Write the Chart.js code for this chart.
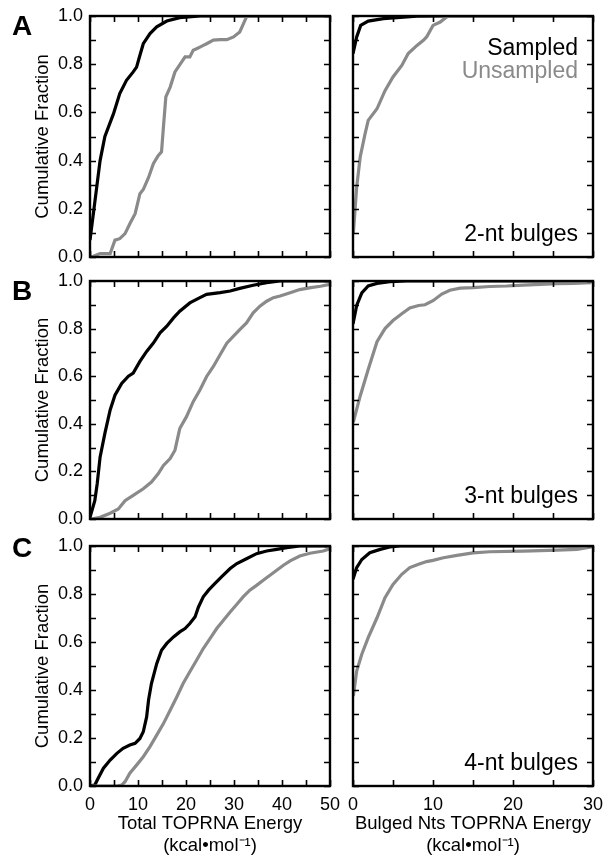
<!DOCTYPE html>
<html><head><meta charset="utf-8">
<script src="https://cdn.jsdelivr.net/npm/chart.js@4.4.0/dist/chart.umd.min.js"></script>
<style>
html,body{margin:0;padding:0;background:#fff;}
body{width:603px;height:858px;position:relative;overflow:hidden;}
canvas{position:absolute;}
</style></head><body>
<canvas id="cA1" width="340" height="270" style="left:0;top:0"></canvas>
<canvas id="cA2" width="260" height="270" style="left:343px;top:0"></canvas>
<canvas id="cB1" width="340" height="270" style="left:0;top:262px"></canvas>
<canvas id="cB2" width="260" height="270" style="left:343px;top:262px"></canvas>
<canvas id="cC1" width="340" height="328" style="left:0;top:530px"></canvas>
<canvas id="cC2" width="260" height="328" style="left:343px;top:530px"></canvas>
<script>
// ---- data: [energy, cumulative fraction] ----
const A_total_sampled = [[0,0.07],[1.4,0.29],[2.1,0.40],[3.1,0.50],[4.9,0.595],[6.2,0.678],[7.6,0.733],[9.0,0.768],[9.7,0.788],[10.4,0.837],[11.1,0.885],[12.5,0.927],[13.9,0.955],[16,0.979],[18.7,0.993],[23,1.0],[50,1.0]];
const A_total_unsampled = [[0.3,0],[2.1,0.014],[4.2,0.014],[5.2,0.07],[6.2,0.076],[7.3,0.097],[8.3,0.138],[9.4,0.18],[10.4,0.263],[11.1,0.28],[12.2,0.33],[13.2,0.387],[14.2,0.42],[14.9,0.436],[15.3,0.54],[15.8,0.664],[16.7,0.705],[17.7,0.768],[19.1,0.81],[19.8,0.83],[20.8,0.83],[21.5,0.858],[22.2,0.864],[22.9,0.871],[23.6,0.878],[24.3,0.885],[25.7,0.9],[27.1,0.902],[28.5,0.902],[29.9,0.913],[31.2,0.934],[32.6,0.996],[33,1.0],[50,1.0]];
const A_bulged_sampled = [[0,0.844],[0.46,0.913],[0.96,0.961],[1.9,0.979],[3.8,0.989],[8,0.999],[11.7,1.0],[30,1.0]];
const A_bulged_unsampled = [[0.04,0.097],[0.46,0.29],[0.9,0.415],[1.5,0.51],[1.9,0.567],[3.0,0.615],[4.0,0.69],[5.0,0.747],[6.1,0.795],[6.9,0.844],[8.0,0.878],[8.8,0.899],[9.2,0.913],[10,0.961],[10.9,0.975],[11.7,0.996],[12.1,1.0],[30,1.0]];

const B_total_sampled = [[0,0.007],[1.0,0.077],[1.5,0.148],[2.1,0.26],[3.1,0.36],[4.2,0.458],[5.2,0.52],[6.6,0.57],[8.0,0.6],[9.0,0.613],[10.4,0.662],[11.8,0.704],[13.2,0.739],[14.6,0.782],[16,0.81],[17.4,0.845],[18.7,0.873],[20.8,0.908],[22.9,0.93],[24.3,0.944],[27.1,0.951],[29.2,0.958],[31.2,0.969],[34,0.982],[36.8,0.993],[39.6,1.0],[50,1.0]];
const B_total_unsampled = [[0.3,0],[2.1,0.007],[4.2,0.024],[5.9,0.042],[7.3,0.077],[9.0,0.099],[11.1,0.127],[12.8,0.155],[14.2,0.19],[15.3,0.225],[16.7,0.254],[17.7,0.289],[18.7,0.38],[20.1,0.43],[21.5,0.493],[22.9,0.542],[24.3,0.599],[25.7,0.641],[27.1,0.69],[28.5,0.739],[29.9,0.768],[31.2,0.796],[32.6,0.824],[34,0.866],[35.4,0.894],[36.8,0.915],[38.2,0.93],[39.6,0.937],[41.7,0.951],[43.7,0.964],[46,0.972],[48,0.978],[50,0.986]];
const B_bulged_sampled = [[0,0.82],[0.46,0.897],[1.1,0.95],[1.9,0.979],[3,0.99],[4.6,0.997],[6.7,1.0],[30,1.0]];
const B_bulged_unsampled = [[0.04,0.407],[0.9,0.517],[1.9,0.628],[3.0,0.745],[4.0,0.8],[5.0,0.834],[6.1,0.862],[7.1,0.887],[8.2,0.897],[9.0,0.9],[10,0.917],[11.1,0.945],[12.1,0.961],[13.4,0.97],[15,0.972],[17.1,0.977],[19.2,0.979],[21.3,0.983],[23.4,0.986],[25.5,0.989],[27.5,0.99],[29.8,0.993]];

const C_total_sampled = [[0,0],[1.0,0.004],[1.7,0.032],[2.8,0.074],[4.2,0.108],[5.6,0.136],[6.9,0.157],[8.3,0.171],[9.4,0.178],[10.4,0.198],[11.1,0.226],[11.8,0.288],[12.2,0.358],[12.8,0.427],[13.9,0.51],[14.9,0.566],[16,0.594],[17.4,0.621],[18.7,0.642],[19.8,0.656],[20.8,0.677],[21.9,0.705],[22.6,0.746],[23.6,0.788],[24.7,0.816],[26,0.843],[27.4,0.871],[29.2,0.906],[30.6,0.927],[32.6,0.947],[34.7,0.968],[36.8,0.979],[38.9,0.986],[41,0.993],[43.7,1.0],[50,1.0]];
const C_total_unsampled = [[0.3,0],[5.6,0],[6.6,0.004],[7.3,0.018],[8.3,0.053],[9.7,0.087],[11.1,0.122],[12.5,0.164],[13.9,0.212],[15.3,0.26],[16.7,0.316],[18.1,0.372],[19.4,0.427],[20.8,0.476],[22.2,0.524],[23.6,0.573],[25,0.614],[26.4,0.656],[27.8,0.691],[29.2,0.725],[30.6,0.757],[31.9,0.788],[33.3,0.816],[34.7,0.836],[36.1,0.857],[37.5,0.878],[38.9,0.899],[40.3,0.92],[41.7,0.938],[43.7,0.958],[45.8,0.97],[48.6,0.979],[49.6,0.986],[50,1.0]];
const C_bulged_sampled = [[0,0.861],[0.46,0.91],[1.1,0.944],[2.1,0.972],[3.4,0.986],[4.6,0.996],[5.9,1.0],[30,1.0]];
const C_bulged_unsampled = [[0.04,0.375],[0.46,0.479],[1.1,0.549],[1.9,0.618],[3.0,0.701],[4.0,0.785],[5.0,0.84],[6.1,0.882],[7.1,0.91],[8.2,0.924],[9.2,0.935],[10,0.94],[11.3,0.951],[13,0.961],[15,0.971],[17.1,0.976],[21.3,0.979],[25.5,0.983],[28,0.986],[29.8,0.996]];

const seriesNames = ["Sampled", "Unsampled"];
const bulgeLabels = ["2-nt bulges", "3-nt bulges", "4-nt bulges"];
const panelLetters = ["A", "B", "C"];
const xMaxTotal = 50, xMaxBulged = 30;
const yTitle = "Cumulative Fraction";
const xTitleTotal = ["Total TOPRNA Energy", "(kcal\u2022mol\u207B\u00B9)"];
const xTitleBulged = ["Bulged Nts TOPRNA Energy", "(kcal\u2022mol\u207B\u00B9)"];

// ---- style ----
const FONT = "'Liberation Sans', Arial, Helvetica, sans-serif";
const BLACK = "#000000", GRAY = "#8a8a8a";
Chart.defaults.font.family = FONT;
Chart.defaults.color = "#000";

function toXY(arr){ return arr.map(p => ({x:p[0], y:p[1]})); }

const framePlugin = {
  id: 'frame',
  afterDraw(chart){
    const o = chart.options.plugins.frame;
    const ctx = chart.ctx, a = chart.chartArea;
    const xs = chart.scales.x, ys = chart.scales.y;
    ctx.save();
    ctx.strokeStyle = '#000';
    ctx.lineWidth = 1.6;
    ctx.beginPath();
    const TL = 6;
    ys.ticks.forEach(t => {
      const py = Math.round(ys.getPixelForValue(t.value)) + 0.5;
      ctx.moveTo(a.left, py); ctx.lineTo(a.left + TL, py);
      ctx.moveTo(a.right, py); ctx.lineTo(a.right - TL, py);
    });
    xs.ticks.forEach(t => {
      const px = Math.round(xs.getPixelForValue(t.value)) + 0.5;
      ctx.moveTo(px, a.top); ctx.lineTo(px, a.top + TL);
      ctx.moveTo(px, a.bottom); ctx.lineTo(px, a.bottom - TL);
    });
    ctx.stroke();
    ctx.lineWidth = 2.4;
    ctx.strokeRect(a.left, a.top, a.right - a.left, a.bottom - a.top);
    (o.notes || []).forEach(n => {
      ctx.font = n.font;
      ctx.fillStyle = n.color;
      ctx.textAlign = 'right';
      ctx.textBaseline = 'alphabetic';
      const x = a.right - n.dx;
      const y = n.fromBottom ? a.bottom - n.dy : a.top + n.dy;
      ctx.fillText(n.text, x, y);
    });
    if (o.letter) {
      ctx.font = "bold 28px " + FONT;
      ctx.fillStyle = '#000';
      ctx.textAlign = 'left';
      ctx.textBaseline = 'alphabetic';
      ctx.fillText(o.letter.text, o.letter.x, o.letter.y);
    }
    ctx.restore();
  }
};

function makePanel(id, cfg){
  const isLeft = cfg.left;
  const showX = cfg.bottomRow;
  new Chart(document.getElementById(id), {
    type: 'line',
    data: {
      datasets: [
        { label: seriesNames[1], data: toXY(cfg.unsampled), borderColor: GRAY, borderWidth: 3.2, pointRadius: 0, tension: 0, order: 0, fill: false },
        { label: seriesNames[0], data: toXY(cfg.sampled), borderColor: BLACK, borderWidth: 3.2, pointRadius: 0, tension: 0, order: 1, fill: false }
      ]
    },
    options: {
      responsive: false,
      animation: false,
      events: [],
      layout: { padding: { top: cfg.padTop, right: 10, left: 0, bottom: 0 } },
      plugins: {
        legend: { display: false },
        tooltip: { enabled: false },
        frame: { notes: cfg.notes, letter: cfg.letter }
      },
      scales: {
        x: {
          type: 'linear', min: 0, max: cfg.xMax,
          grid: { display: false, drawTicks: true, tickLength: 8 },
          border: { display: false },
          ticks: {
            display: showX, stepSize: 5, autoSkip: false, maxRotation: 0, padding: 0,
            font: { size: 18 }, color: '#000',
            callback: v => (Math.round(v) % 10 === 0 ? String(Math.round(v)) : '')
          },
          title: {
            display: showX, text: cfg.xTitle, font: { size: 18.5 }, color: '#000',
            padding: { top: 0, bottom: 1 }
          },
          afterFit: s => { s.height = cfg.xAxisH; }
        },
        y: {
          type: 'linear', min: 0, max: 1,
          grid: { display: false, drawTicks: true, tickLength: 7 },
          border: { display: false },
          ticks: {
            display: isLeft, stepSize: 0.1, autoSkip: false, padding: 0,
            font: { size: 18 }, color: '#000',
            callback: v => (Math.round(v * 10) % 2 === 0 ? v.toFixed(1) : '')
          },
          title: {
            display: isLeft, text: yTitle, font: { size: 18.5 }, color: '#000',
            padding: { top: 32, bottom: 0 }
          },
          afterFit: s => { s.width = isLeft ? 90 : 10; }
        }
      }
    },
    plugins: [framePlugin]
  });
}

const F_NOTE = "23px " + FONT;

makePanel('cA1', { left: true, bottomRow: false, xMax: xMaxTotal, xAxisH: 13, padTop: 16,
  sampled: A_total_sampled, unsampled: A_total_unsampled,
  letter: { text: panelLetters[0], x: 12, y: 35 } });
makePanel('cA2', { left: false, bottomRow: false, xMax: xMaxBulged, xAxisH: 13, padTop: 16,
  sampled: A_bulged_sampled, unsampled: A_bulged_unsampled,
  notes: [
    { text: seriesNames[0], color: BLACK, font: F_NOTE, dx: 15, dy: 39 },
    { text: seriesNames[1], color: GRAY, font: F_NOTE, dx: 15, dy: 62 },
    { text: bulgeLabels[0], color: BLACK, font: F_NOTE, dx: 15, fromBottom: true, dy: 16 }
  ] });
makePanel('cB1', { left: true, bottomRow: false, xMax: xMaxTotal, xAxisH: 13, padTop: 19,
  sampled: B_total_sampled, unsampled: B_total_unsampled,
  letter: { text: panelLetters[1], x: 12, y: 38 } });
makePanel('cB2', { left: false, bottomRow: false, xMax: xMaxBulged, xAxisH: 13, padTop: 19,
  sampled: B_bulged_sampled, unsampled: B_bulged_unsampled,
  notes: [ { text: bulgeLabels[1], color: BLACK, font: F_NOTE, dx: 15, fromBottom: true, dy: 16 } ] });
makePanel('cC1', { left: true, bottomRow: true, xMax: xMaxTotal, xAxisH: 72, padTop: 16, xTitle: xTitleTotal,
  sampled: C_total_sampled, unsampled: C_total_unsampled,
  letter: { text: panelLetters[2], x: 12, y: 27 } });
makePanel('cC2', { left: false, bottomRow: true, xMax: xMaxBulged, xAxisH: 72, padTop: 16, xTitle: xTitleBulged,
  sampled: C_bulged_sampled, unsampled: C_bulged_unsampled,
  notes: [ { text: bulgeLabels[2], color: BLACK, font: F_NOTE, dx: 15, fromBottom: true, dy: 16 } ] });
</script>
</body></html>
